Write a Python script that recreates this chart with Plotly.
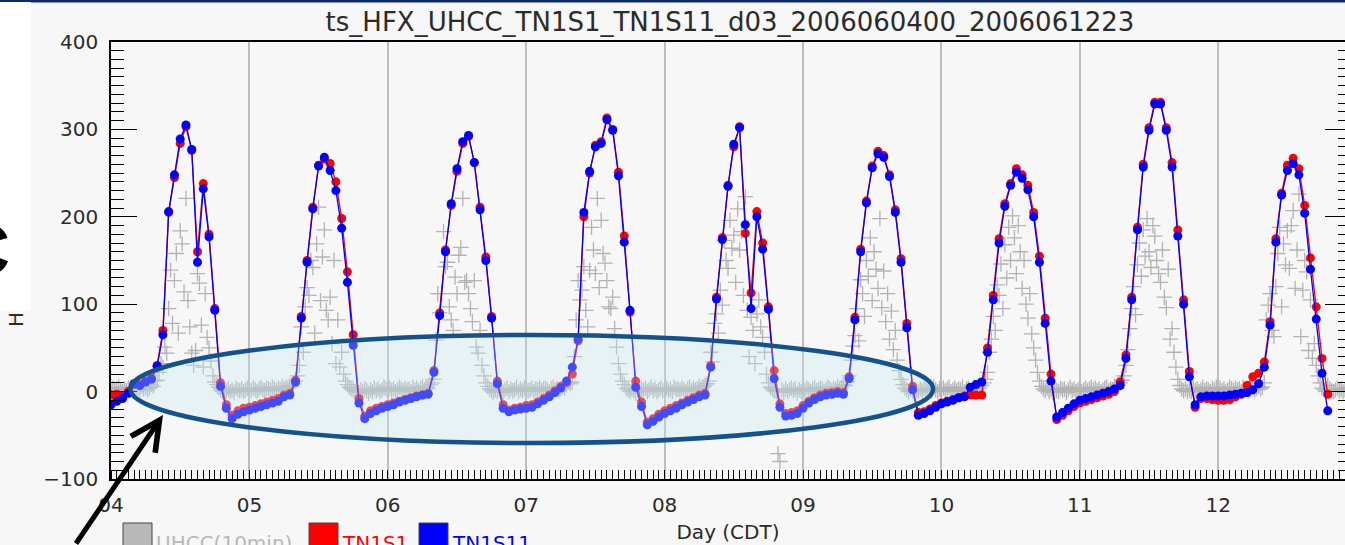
import plotly.graph_objects as go

# ---------------------------------------------------------------- data
day_values = [4, 5, 6, 7, 8, 9, 10, 11, 12]
day_labels = ["04", "05", "06", "07", "08", "09", "10", "11", "12"]

# UHCC flux tower, sampled every 20 min, 00:00 .. 23:40 CDT of each day
uhcc_04 = [2, 4, 1, 3, 5, 2, 0, 3, 1, 4, 2, 5, 3, 1, 4, 2, 6, 3, 5, 2, 4, 8, 6, 12,
           13, 22, 32, 28, 51, 44, 95, 139, 78, 127, 158, 67, 184, 169, 114, 221, 104, 74,
           44, 30, 47, 135, 124, 76, 28, 112, 62, 50, 35, 18, 11, 8, 5, 2, 0, -2,
           1, 3, 0, 2, -1, 4, 2, 1, 3, 0, 2, 4]
uhcc_05 = [3, 1, 4, 2, 0, 3, 5, 2, 1, 4, 3, 2, 5, 3, 1, 4, 2, 6, 3, 5, 4, 7, 6, 9,
           12, 18, 30, 74, 45, 97, 119, 110, 150, 142, 67, 169, 211, 104, 154, 185, 93, 82,
           108, 55, 150, 32, 82, 28, 45, 20, 12, 8, 5, 3, 2, 0, 1, -1, 2, 0,
           3, 1, -2, 2, 0, 4, 1, 3, 0, 2, 5, 3]
uhcc_06 = [2, 4, 1, 3, 0, 2, 5, 3, 1, 4, 2, 3, 0, 5, 2, 4, 1, 3, 6, 2, 5, 4, 8, 10,
           14, 59, 112, 90, 112, 183, 143, 148, 97, 82, 70, 131, 112, 156, 165, 221, 125, 127,
           112, 95, 80, 127, 51, 44, 70, 30, 18, 10, 6, 3, 1, -1, 2, 0, 3, 1,
           -1, 2, 4, 0, 3, 1, 2, 5, 0, 3, 1, 4]
uhcc_07 = [3, 1, 2, 4, 0, 3, 2, 5, 1, 3, 4, 2, 0, 3, 5, 2, 4, 1, 3, 6, 4, 8, 11, 9,
           11, 40, 82, 127, 105, 116, 143, 93, 74, 139, 188, 162, 135, 221, 119, 196, 158, 147,
           127, 97, 95, 108, 72, 51, 32, 20, 12, 8, 4, 2, 0, 3, 1, -2, 2, 0,
           3, 1, 4, 0, 2, 5, 1, 3, 0, 2, 4, 1]
uhcc_08 = [2, 4, 1, 3, 0, 5, 2, 3, 1, 4, 2, 0, 3, 5, 1, 4, 2, 3, 6, 2, 5, 7, 9, 12,
           45, 34, 78, 89, 67, 116, 99, 173, 150, 141, 196, 164, 179, 125, 209, 162, 183, 110,
           223, 93, 40, 85, 70, 32, 89, 105, 74, 62, 45, 20, 10, 5, 3, 1, 0, -71,
           -80, 2, -1, 3, 0, 2, 4, 1, 3, -2, 2, 0]
uhcc_09 = [3, 1, 4, 2, 0, 3, 5, 1, 2, 4, 3, 0, 2, 5, 3, 1, 4, 2, 6, 3, 5, 8, 7, 11,
           18, 36, 52, 64, 95, 58, 128, 112, 86, 150, 132, 176, 104, 160, 140, 118, 198, 96,
           138, 80, 112, 60, 92, 48, 70, 36, 24, 14, 8, 4, 2, 0, 3, 1, -2, 2,
           0, 3, 1, 4, 2, 0, 3, 1, 5, 2, 0, 3]
uhcc_10 = [2, 4, 1, 3, 5, 0, 2, 4, 1, 3, 2, 5, 0, 3, 4, 1, 2, 5, 3, 6, 4, 7, 10, 14,
           22, 45, 60, 86, 70, 122, 110, 146, 95, 168, 130, 188, 150, 201, 176, 135, 190, 160,
           118, 150, 100, 84, 112, 66, 50, 36, 22, 12, 6, 3, 1, 4, 0, 2, -1, 3,
           1, 0, 4, 2, 3, -1, 2, 5, 1, 3, 0, 2]
uhcc_11 = [3, 0, 2, 4, 1, 3, 5, 2, 4, 1, 3, 0, 2, 4, 5, 1, 3, 2, 6, 4, 8, 10, 13, 18,
           30, 48, 72, 95, 120, 88, 145, 170, 132, 185, 155, 198, 160, 142, 190, 178, 150, 135,
           125, 162, 108, 96, 140, 60, 72, 45, 28, 14, 7, 3, 1, 3, 0, 2, 0, 4,
           1, 3, 0, 2, 5, 1, 3, 2, 0, 4, 2, 5]
uhcc_12 = [2, 4, 1, 3, 0, 2, 5, 3, 1, 4, 2, 3, 0, 5, 2, 4, 1, 3, 5, 2, 4, 6, 3, 5,
           10, 82, 99, 112, 70, 63, 120, 158, 188, 97, 169, 145, 184, 141, 190, 207, 118, 162,
           226, 63, 116, 150, 137, 47, 105, 38, 55, 30, 18, 10, 4, 2, 0, 7, 3, 1,
           0, 2, 4, 1, 3, 0, 2, 5, 1, 3, 0, 2]
uhcc_days = [uhcc_04, uhcc_05, uhcc_06, uhcc_07, uhcc_08, uhcc_09, uhcc_10, uhcc_11, uhcc_12]

# WRF d03 hourly sensible heat flux from 2006-06-04 00 CDT
tn1s1 = [
    -4, -3, -5, 0, 8, 8, 12, 15, 30, 70, 205, 245, 284, 303, 276, 160, 238, 180, 95, 10, -15, -27, -22, -19,
    -18, -16, -14, -12, -10, -8, -4, -2, 13, 86, 150, 211, 259, 266, 261, 240, 198, 137, 65, -8, -28, -22, -19, -17,
    -15, -13, -11, -9, -7, -5, -4, -2, 24, 90, 162, 213, 252, 284, 292, 262, 211, 154, 86, 12, -15, -21, -19, -18,
    -16, -15, -12, -8, -4, 1, 6, 10, 20, 58, 200, 250, 282, 286, 313, 300, 251, 178, 91, 12, -12, -35, -31, -26,
    -22, -19, -16, -13, -10, -7, -4, -2, 30, 108, 176, 236, 280, 303, 181, 113, 206, 170, 97, 24, -14, -25, -24, -22,
    -16, -11, -7, -4, -2, -1, 0, -1, 17, 85, 163, 218, 258, 275, 270, 248, 208, 152, 78, 6, -24, -23, -20, -16,
    -13, -11, -9, -7, -5, -4, -4, -4, 50, 110, 175, 215, 238, 255, 248, 236, 205, 155, 84, 20, -32, -27, -22, -17,
    -13, -11, -9, -7, -5, -3, 0, 11, 42, 108, 188, 260, 302, 331, 331, 302, 262, 185, 105, 23, -18, -8, -8, -9,
    -10, -10, -9, -6, -3, 7, 17, 21, 34, 80, 175, 227, 259, 267, 255, 213, 153, 97, 38, -3,
]
tn1s11 = [
    -15, -11, -8, -2, 9, 7, 11, 14, 29, 65, 206, 248, 289, 305, 277, 148, 232, 177, 93, 6, -19, -31, -26, -23,
    -21, -19, -17, -15, -13, -11, -6, -4, 11, 84, 148, 209, 258, 268, 253, 230, 187, 125, 53, -13, -31, -25, -22, -19,
    -17, -15, -12, -10, -8, -6, -4, -3, 22, 87, 160, 215, 255, 286, 293, 262, 208, 150, 84, 9, -19, -23, -21, -20,
    -19, -18, -14, -10, -6, -1, 4, 12, 28, 60, 205, 252, 280, 284, 311, 299, 247, 171, 93, 5, -17, -38, -34, -29,
    -25, -22, -19, -15, -12, -9, -6, -4, 28, 106, 174, 235, 283, 302, 191, 95, 200, 163, 94, 15, -18, -28, -27, -25,
    -19, -13, -9, -6, -4, -3, -2, -3, 15, 82, 160, 216, 256, 272, 268, 246, 205, 148, 73, 2, -27, -25, -22, -18,
    -14, -12, -10, -7, -6, 5, 8, 11, 45, 105, 170, 212, 236, 251, 244, 231, 200, 148, 78, 12, -29, -24, -19, -14,
    -10, -8, -6, -4, -2, 0, 3, 7, 38, 105, 185, 257, 299, 329, 329, 299, 257, 178, 100, 17, -15, -6, -5, -5,
    -5, -5, -4, -3, -2, -1, 2, 9, 28, 76, 171, 225, 253, 261, 248, 204, 140, 83, 21, -22,
]

y_ticks = [-100, 0, 100, 200, 300, 400]

# ---------------------------------------------------------------- geometry
FIG_W, FIG_H = 1345, 545
M_L, M_R, M_T, M_B = 111, 0, 42, 66
PX_PER_DAY = 138.4
plot_w = FIG_W - M_L - M_R
plot_h = FIG_H - M_T - M_B
x_end = 4 + plot_w / PX_PER_DAY


def paper_x(px):
    return (px - M_L) / plot_w


def paper_y(py):
    return (FIG_H - M_B - py) / plot_h


FONT = "DejaVu Sans"
TXT = "#2b2b2b"
GRAY, RED, BLUE = "#b3b3b3", "#ff0000", "#0000ff"

obs_x, obs_y = [], []
for d, vals in zip(day_values, uhcc_days):
    for k, v in enumerate(vals):
        obs_x.append(d + k / 72)
        obs_y.append(v)

model_x1 = [4 + h / 24 for h in range(len(tn1s1))]
model_x11 = [4 + h / 24 for h in range(len(tn1s11))]

fig = go.Figure()
fig.add_trace(go.Scatter(
    x=obs_x, y=obs_y, mode="markers", name="UHCC(10min)",
    marker=dict(symbol="cross-thin", size=11, color=GRAY, line=dict(width=1.3, color=GRAY)),
))
fig.add_trace(go.Scatter(
    x=model_x1, y=tn1s1, mode="lines+markers", name="TN1S1",
    line=dict(color=RED, width=1.3), marker=dict(size=9, color=RED),
))
fig.add_trace(go.Scatter(
    x=model_x11, y=tn1s11, mode="lines+markers", name="TN1S11",
    line=dict(color=BLUE, width=1.3), marker=dict(size=9, color=BLUE),
))
# right-hand tick column
fig.add_trace(go.Scatter(x=[], y=[], yaxis="y2", showlegend=False))

tickfont = dict(family=FONT, size=20, color=TXT)

fig.update_layout(
    width=FIG_W, height=FIG_H,
    margin=dict(l=M_L, r=M_R, t=M_T, b=M_B, pad=0),
    paper_bgcolor="#f7f7f7", plot_bgcolor="#f7f7f7",
    showlegend=False,
    title=dict(
        text="ts_HFX_UHCC_TN1S1_TN1S11_d03_2006060400_2006061223",
        font=dict(family=FONT, size=26, color=TXT),
        x=paper_x(730), xref="paper", xanchor="center",
        y=1 - 22 / FIG_H, yref="container", yanchor="middle",
    ),
    xaxis=dict(
        range=[4, x_end], tickmode="array", tickvals=day_values, ticktext=day_labels,
        ticks="", showgrid=True, gridcolor="#bdbdbd", gridwidth=1.5, zeroline=False,
        showline=True, linecolor="black", linewidth=1.5, mirror=True,
        tickfont=tickfont, ticklabelstandoff=7,
        minor=dict(tickmode="linear", tick0=4, dtick=1 / 24, ticks="inside",
                   ticklen=9, tickwidth=1.3, tickcolor="black", showgrid=False),
        title=dict(text="Day (CDT)", font=dict(family=FONT, size=20, color=TXT), standoff=9),
    ),
    yaxis=dict(
        range=[-100, 400], tickmode="array", tickvals=y_ticks,
        ticks="inside", ticklen=26, tickwidth=1.3, tickcolor="black",
        showgrid=False, zeroline=False,
        showline=True, linecolor="black", linewidth=1.5,
        tickfont=tickfont, ticklabelstandoff=7,
        minor=dict(tickmode="linear", tick0=0, dtick=10, ticks="inside",
                   ticklen=13, tickwidth=1.3, tickcolor="black", showgrid=False),
    ),
    yaxis2=dict(
        range=[-100, 400], overlaying="y", side="right", anchor="x",
        tickmode="array", tickvals=y_ticks, showticklabels=False,
        ticks="inside", ticklen=20, tickwidth=1.3, tickcolor="black",
        showgrid=False, zeroline=False, showline=False,
        minor=dict(tickmode="linear", tick0=0, dtick=10, ticks="inside",
                   ticklen=7, tickwidth=1.3, tickcolor="black", showgrid=False),
    ),
)

shapes = [
    # header rule across the top
    dict(type="rect", xref="paper", yref="paper",
         x0=paper_x(0), x1=paper_x(FIG_W), y0=paper_y(2.5), y1=paper_y(-1),
         fillcolor="#0b2a66", line=dict(width=0), layer="above"),
    # highlighted night-time band
    dict(type="circle", xref="x", yref="y", x0=4.14, x1=9.94, y0=-58.8, y1=64.8,
         fillcolor="rgba(200,232,240,0.32)", line=dict(color="#13528c", width=4.5),
         layer="above"),
]
legend_items = [("UHCC(10min)", "#b8b8b8", "#b8b8b8", 123),
                ("TN1S1", RED, RED, 309),
                ("TN1S11", BLUE, BLUE, 419)]
for _, fill, _, x_left in legend_items:
    shapes.append(dict(type="rect", xref="paper", yref="paper",
                       x0=paper_x(x_left), x1=paper_x(x_left + 29),
                       y0=paper_y(560), y1=paper_y(523),
                       fillcolor=fill, line=dict(color="#444444", width=1), layer="above"))
fig.update_layout(shapes=shapes)

annotations = [
    # y-axis title
    dict(text="HFX (W m<sup>-2</sup>)", textangle=-90, showarrow=False,
         xref="paper", yref="paper", x=paper_x(15), y=paper_y(266),
         xanchor="center", yanchor="middle", font=dict(family=FONT, size=20, color=TXT)),
    # white panel on the left edge
    dict(text=" ", showarrow=False, xref="paper", yref="paper",
         x=paper_x(0), y=paper_y(2.5), xanchor="left", yanchor="top",
         width=31, height=309, bgcolor="white", borderpad=0, borderwidth=0),
    dict(text="<b>C</b>", showarrow=False, xref="paper", yref="paper",
         x=paper_x(12), y=paper_y(250), xanchor="right", yanchor="middle",
         font=dict(family="Liberation Sans", size=72, color="black")),
    # pointer into the highlighted band
    dict(text="", showarrow=True, xref="paper", yref="paper",
         x=paper_x(163), y=paper_y(415), ax=-88, ay=135,
         arrowhead=5, arrowsize=1.15, arrowwidth=5, arrowcolor="black", standoff=0),
]
for label, _, tcolor, x_left in legend_items:
    annotations.append(dict(text=label, showarrow=False, xref="paper", yref="paper",
                            x=paper_x(x_left + 31), y=paper_y(529),
                            xanchor="left", yanchor="top",
                            font=dict(family=FONT, size=20, color=tcolor)))
fig.update_layout(annotations=annotations)

fig.write_html("out.html")
